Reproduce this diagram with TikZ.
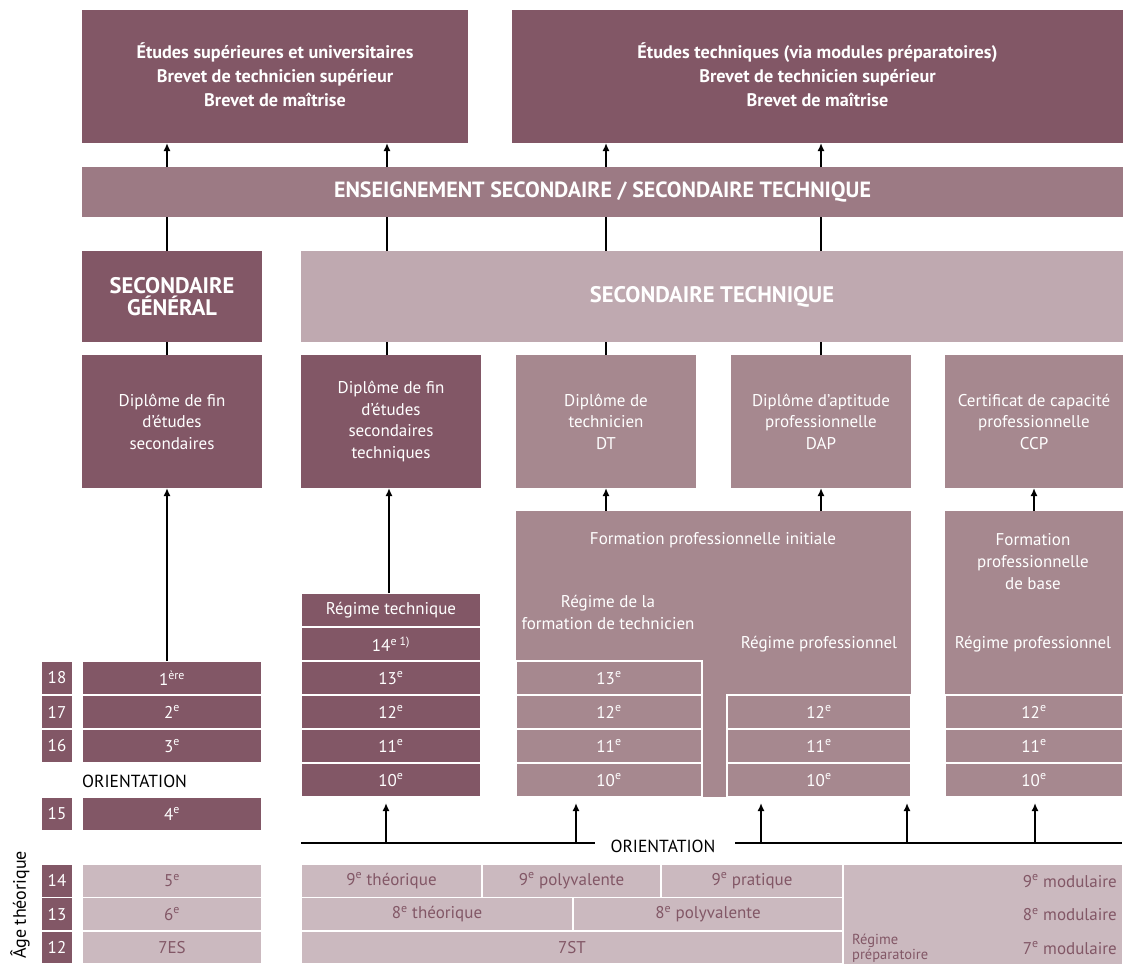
\documentclass[tikz,border=0pt]{standalone}
\usepackage{fontspec}
\setmainfont{PT Sans}
\usetikzlibrary{arrows.meta,positioning}
\definecolor{mauvedark}{HTML}{825766}
\definecolor{mauveband}{HTML}{9C7A84}
\definecolor{mauvemid}{HTML}{A6888F}
\definecolor{mauvesec}{HTML}{BFA9B0}
\definecolor{mauvelight}{HTML}{CBB9BF}
\newcommand{\supe}{\textsuperscript{e}}
\tikzset{
  box/.style={inner sep=0pt, outer sep=0pt, anchor=north west, align=center, text=white,
    font=\fontsize{17}{21.5}\selectfont},
  darkbox/.style={box, fill=mauvedark},
  midbox/.style={box, fill=mauvemid},
  lightbox/.style={box, fill=mauvelight, text=mauvedark},
  cell/.style={draw=white, line width=1.5pt},
  headbox/.style={font=\bfseries\fontsize{18.2}{24}\selectfont},
  bighead/.style={font=\bfseries\fontsize{22.5}{22}\selectfont},
  txt/.style={inner sep=0pt, align=center, text=white, font=\fontsize{17}{22}\selectfont},
  arr/.style={-{Latex[length=8pt,width=7pt]}, line width=1.8pt},
  link/.style={line width=1.8pt}
}
\begin{document}
\begin{tikzpicture}[x=1pt,y=-1pt]
\useasboundingbox (0,0) rectangle (1123,964);

% sorties
\node[darkbox, headbox, minimum width=386, minimum height=133] (supuni) at (82,10)
  {Études supérieures et universitaires\\Brevet de technicien supérieur\\Brevet de maîtrise\vphantom{p}};
\node[darkbox, headbox, minimum width=611, minimum height=133] (suptech) at (512,10)
  {Études techniques (via modules préparatoires)\\Brevet de technicien supérieur\\Brevet de maîtrise\vphantom{p}};

\node[box, fill=mauveband, font=\bfseries\fontsize{22}{24}\selectfont, minimum width=1041, minimum height=50] (band) at (82,167)
  {ENSEIGNEMENT SECONDAIRE / SECONDAIRE TECHNIQUE};

\node[darkbox, bighead, minimum width=180, minimum height=91] (secgen) at (82,251) {SECONDAIRE\\GÉNÉRAL};
\node[box, fill=mauvesec, bighead, minimum width=822, minimum height=91] (sectech) at (301,251) {SECONDAIRE TECHNIQUE};

% diplomes
\node[darkbox, minimum width=180, minimum height=133] (dipgen) at (82,355) {Diplôme de fin\\d’études\\secondaires};
\node[darkbox, minimum width=180, minimum height=133] (diptech) at (301,355) {Diplôme de fin\\d’études\\secondaires\\techniques};
\node[midbox, minimum width=180, minimum height=133] (dipdt) at (516,355) {Diplôme de\\technicien\\DT};
\node[midbox, minimum width=180, minimum height=133] (dipdap) at (731,355) {Diplôme d’aptitude\\professionnelle\\DAP};
\node[midbox, minimum width=178, minimum height=133] (dipccp) at (945,355) {Certificat de capacité\\professionnelle\\CCP};

% formation professionnelle
\node[midbox, minimum width=395, minimum height=286] (fpi) at (516,511) {};
\node[midbox, minimum width=178, minimum height=286] (fpb) at (945,511) {};
\node[txt] (fpitxt) at (713,540) {Formation professionnelle initiale};
\node[txt] (regdt) at (608,612) {Régime de la\\formation de technicien};
\node[txt] (regpro) at (819,644) {Régime professionnel};
\node[txt] (fpbtxt) at (1033,562) {Formation\\professionnelle\\de base};
\node[txt] (regbase) at (1033,644) {Régime professionnel};

% classes
\node[darkbox, cell, minimum width=180, minimum height=34] (regtech) at (301,593) {Régime technique};
\node[darkbox, cell, minimum width=180, minimum height=34] (tech14) at (301,627) {14\textsuperscript{e 1)}};
\foreach \g/\y in {13/661,12/695,11/729,10/763}
  \node[darkbox, cell, minimum width=180, minimum height=34] (tech\g) at (301,\y) {\g\supe};
\foreach \g/\y in {13/661,12/695,11/729,10/763}
  \node[midbox, cell, minimum width=186, minimum height=34] (dt\g) at (516,\y) {\g\supe};
\foreach \g/\y in {12/695,11/729,10/763}
  \node[midbox, cell, minimum width=184, minimum height=34] (pro\g) at (727,\y) {\g\supe};
\foreach \g/\y in {12/695,11/729,10/763}
  \node[midbox, cell, minimum width=178, minimum height=34] (base\g) at (945,\y) {\g\supe};

\node[darkbox, cell, minimum width=180, minimum height=34] (gen1) at (82,661) {1\textsuperscript{ère}};
\node[darkbox, cell, minimum width=180, minimum height=34] (gen2) at (82,695) {2\supe};
\node[darkbox, cell, minimum width=180, minimum height=34] (gen3) at (82,729) {3\supe};
\node[darkbox, cell, minimum width=180, minimum height=34] (gen4) at (82,797) {4\supe};
\node[lightbox, cell, minimum width=180, minimum height=33.4] (gen5) at (82,864) {5\supe};
\node[lightbox, cell, minimum width=180, minimum height=33.4] (gen6) at (82,897.4) {6\supe};
\node[lightbox, cell, minimum width=180, minimum height=33.4] (gen7) at (82,930.8) {7ES};
\node[inner sep=0pt, anchor=west, font=\fontsize{17.5}{20}\selectfont] (orgen) at (82,781) {ORIENTATION};

% ages
\foreach \a/\y in {18/661,17/695,16/729,15/797}
  \node[darkbox, cell, minimum width=32, minimum height=34] (age\a) at (41,\y) {\a};
\foreach \a/\y in {14/864,13/897.4,12/930.8}
  \node[darkbox, cell, minimum width=32, minimum height=33.4] (age\a) at (41,\y) {\a};
\node[rotate=90, inner sep=0pt, font=\fontsize{18}{20}\selectfont] (agetxt) at (20,905) {Âge théorique};

% cycle inferieur
\node[lightbox, cell, minimum width=181, minimum height=33.4] (th9) at (301,864) {9\supe\ théorique};
\node[lightbox, cell, minimum width=179, minimum height=33.4] (po9) at (482,864) {9\supe\ polyvalente};
\node[lightbox, cell, minimum width=182, minimum height=33.4] (pr9) at (661,864) {9\supe\ pratique};
\node[lightbox, cell, minimum width=272, minimum height=33.4] (th8) at (301,897.4) {8\supe\ théorique};
\node[lightbox, cell, minimum width=270, minimum height=33.4] (po8) at (573,897.4) {8\supe\ polyvalente};
\node[lightbox, cell, minimum width=542, minimum height=33.4] (st7) at (301,930.8) {7ST};
\node[lightbox, cell, minimum width=280, minimum height=101] (prep) at (843,864) {};
\node[inner sep=0pt, anchor=south west, align=left, text=mauvedark, font=\fontsize{14.5}{15.5}\selectfont] (preptxt) at (852,963) {Régime\\préparatoire};
\node[inner sep=0pt, anchor=east, text=mauvedark, font=\fontsize{17}{20}\selectfont] (mod9) at (1117,881) {9\supe\ modulaire};
\node[inner sep=0pt, anchor=east, text=mauvedark, font=\fontsize{17}{20}\selectfont] (mod8) at (1117,914.5) {8\supe\ modulaire};
\node[inner sep=0pt, anchor=east, text=mauvedark, font=\fontsize{17}{20}\selectfont] (mod7) at (1117,948) {7\supe\ modulaire};

% orientation
\coordinate (ol1) at (301,843);
\coordinate (ol2) at (595,843);
\coordinate (or1) at (735,843);
\coordinate (or2) at (1122,843);
\node[inner sep=0pt, font=\fontsize{17.5}{20}\selectfont] (ortech) at (663,846) {ORIENTATION};
\draw[line width=2.5pt] (ol1) -- (ol2);
\draw[line width=2.5pt] (or1) -- (or2);
\draw[arr, shorten >=6pt] ([xshift=-5]tech10.south |- ol1) -- ([xshift=-5]tech10.south);
\draw[arr, shorten >=6pt] ([xshift=-33]dt10.south |- ol1) -- ([xshift=-33]dt10.south);
\draw[arr, shorten >=6pt] ([xshift=-58]pro10.south |- ol1) -- ([xshift=-58]pro10.south);
\draw[arr, shorten >=6pt] ([xshift=88]pro10.south |- ol1) -- ([xshift=88]pro10.south);
\draw[arr, shorten >=6pt] ([xshift=1]base10.south |- ol1) -- ([xshift=1]base10.south);

% liaisons
\coordinate (cg) at (167,0);
\coordinate (ct) at (387,0);
\coordinate (cd) at (606,0);
\coordinate (cp) at (821,0);
\draw[arr] (cg |- gen1.north) -- (cg |- dipgen.south);
\draw[link] (cg |- dipgen.north) -- (cg |- secgen.south);
\draw[link] (cg |- secgen.north) -- (cg |- band.south);
\draw[arr] (cg |- band.north) -- (cg |- supuni.south);
\draw[arr] ([xshift=2]ct |- regtech.north) -- ([xshift=2]ct |- diptech.south);
\draw[link] (ct |- diptech.north) -- (ct |- sectech.south);
\draw[link] (ct |- sectech.north) -- (ct |- band.south);
\draw[arr] (ct |- band.north) -- (ct |- supuni.south);
\draw[arr] (cd |- fpi.north) -- (cd |- dipdt.south);
\draw[link] (cd |- dipdt.north) -- (cd |- sectech.south);
\draw[link] (cd |- sectech.north) -- (cd |- band.south);
\draw[arr] (cd |- band.north) -- (cd |- suptech.south);
\draw[arr] (cp |- fpi.north) -- (cp |- dipdap.south);
\draw[link] (cp |- dipdap.north) -- (cp |- sectech.south);
\draw[link] (cp |- sectech.north) -- (cp |- band.south);
\draw[arr] (cp |- band.north) -- (cp |- suptech.south);
\draw[arr] (fpb.north) -- (dipccp.south);
\end{tikzpicture}
\end{document}
